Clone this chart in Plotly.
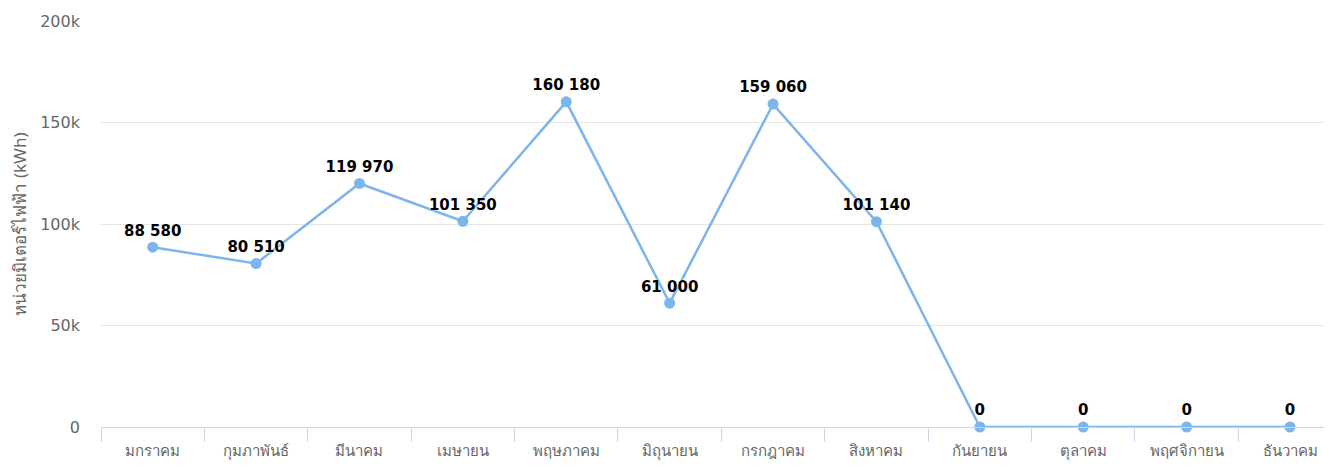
import plotly.graph_objects as go

months = ["มกราคม", "กุมภาพันธ์", "มีนาคม", "เมษายน", "พฤษภาคม", "มิถุนายน",
          "กรกฎาคม", "สิงหาคม", "กันยายน", "ตุลาคม", "พฤศจิกายน", "ธันวาคม"]
energy_kwh = [88580, 80510, 119970, 101350, 160180, 61000,
              159060, 101140, 0, 0, 0, 0]
y_title = "หน่วยมิเตอร์ไฟฟ้า (kWh)"

fig = go.Figure()
fig.add_trace(go.Scatter(
    x=months,
    y=energy_kwh,
    mode="lines+markers+text",
    line=dict(color="#7cb5ec", width=2.5),
    marker=dict(color="#7cb5ec", size=11),
    texttemplate="%{y:,.0f}",
    textposition="top center",
    textfont=dict(family="DejaVu Sans, Verdana, sans-serif", size=15,
                  color="#000000", weight="bold",
                  shadow="0px 0px 2px #ffffff"),
    hoverinfo="skip",
    cliponaxis=False,
))

# page has an 8px body margin, so the figure is sized to fill the rest
fig.update_layout(
    width=1324, height=464,
    margin=dict(l=93, r=0, t=13, b=45),
    paper_bgcolor="#ffffff", plot_bgcolor="#ffffff",
    separators=". ",
    showlegend=False,
    font=dict(family="Tahoma, 'Noto Sans', 'DejaVu Sans', sans-serif", color="#666666"),
)
fig.update_xaxes(
    type="category",
    range=[-0.5, 11.406],
    tickson="boundaries",
    ticks="outside", ticklen=14, tickcolor="#ccd6eb", tickwidth=1,
    ticklabelstandoff=10,
    showgrid=False, zeroline=False,
    showline=True, linecolor="#ccd6eb", linewidth=1,
    tickfont=dict(size=15, color="#666666"),
)
fig.update_yaxes(
    range=[0, 200000],
    dtick=50000, tick0=0,
    tickformat="~s",
    showgrid=True, gridcolor="#e6e6e6", gridwidth=1,
    zeroline=False, showline=False,
    ticks="", ticklabelstandoff=20,
    tickfont=dict(size=16, color="#666666", family="DejaVu Sans, sans-serif"),
    title=dict(text=y_title, font=dict(size=17, color="#666666"), standoff=12),
)

fig.write_html("out.html")
